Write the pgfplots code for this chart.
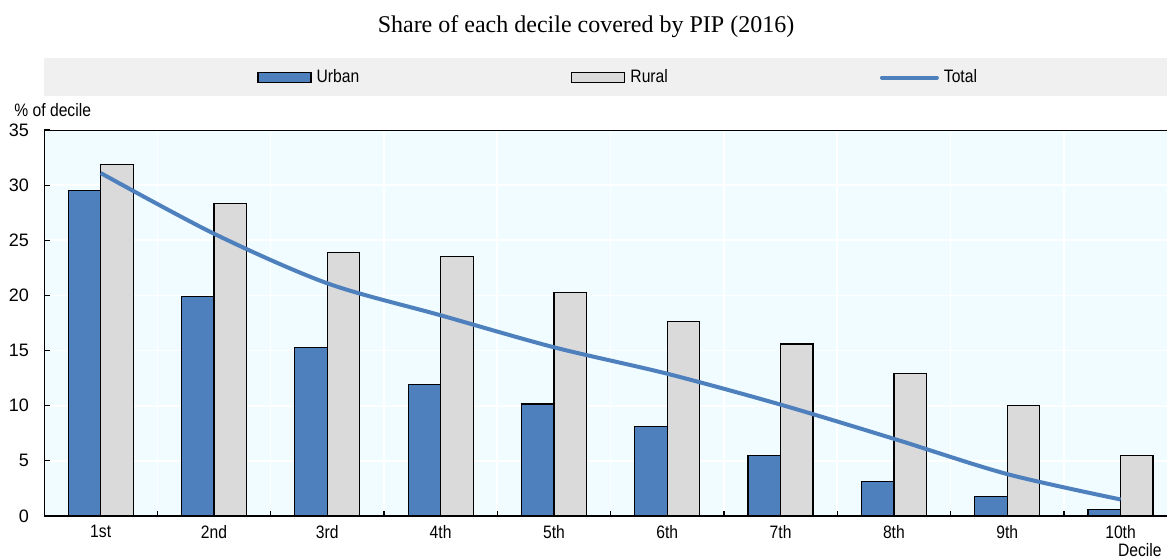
\documentclass[border=0pt]{standalone}
\usepackage{fontspec}
\setmainfont{Liberation Sans}[FakeStretch=0.87]
\newfontfamily\titlefont{Liberation Serif}
\newfontfamily\numfont{Liberation Sans}
\usepackage{pgfplots}
\pgfplotsset{compat=1.18}

\definecolor{oecdblue}{RGB}{78,128,189}
\definecolor{ruralgray}{RGB}{218,218,218}
\definecolor{plotbg}{RGB}{240,252,255}
\definecolor{legbg}{RGB}{240,240,240}

\pgfplotsset{
  barleg/.style={legend image code/.code={\draw[##1] (0pt,-2.5pt) rectangle (26.5pt,2.5pt);}},
  lineleg/.style={legend image code/.code={\draw[##1, line cap=round] (0pt,0pt) -- (27.5pt,0pt);}},
}

\begin{document}
\begin{tikzpicture}
\path[use as bounding box] (0,0) rectangle (583.5pt,279.5pt);
% legend band and title
\fill[legbg] (22pt,231.5pt) rectangle (583.5pt,250.5pt);
\node[font=\titlefont\fontsize{12}{14}\selectfont] at (293pt,266pt) {Share of each decile covered by PIP (2016)};
\node[anchor=base west, inner sep=0pt, font=\fontsize{9}{10}\selectfont] at (7pt,221.5pt) {\% of decile};
\node[anchor=north east, inner sep=0pt, font=\fontsize{9}{10}\selectfont] at (581pt,7.8pt) {Decile};

\begin{axis}[
  at={(22pt,21.5pt)}, anchor=south west,
  scale only axis, width=561.5pt, height=193pt,
  xmin=-0.5, xmax=9.41, ymin=0, ymax=35,
  enlargelimits=false,
  axis line style={draw=none},
  axis background/.style={fill=plotbg},
  font=\fontsize{9}{10}\selectfont,
  /pgf/number format/assume math mode=true,
  xtick={0,...,9},
  xticklabels={1st,2nd,3rd,4th,5th,6th,7th,8th,9th,10th},
  minor xtick={0.5,1.5,...,8.5},
  major x tick style={draw=none},
  minor tick length=2.5pt,
  ytick={0,5,...,35},
  major tick length=3pt,
  tick align=inside,
  xtick pos=bottom, ytick pos=left,
  tick style={black, line width=0.6pt},
  xminorgrids=true, ymajorgrids=true,
  grid style={white, line width=0.8pt},
  minor grid style={white, line width=0.8pt},
  yticklabel style={xshift=-4pt, font=\numfont\fontsize{9}{10}\selectfont},
  xticklabel style={yshift=-1pt},
  legend columns=3,
  legend style={at={(0.1897,1.136)}, anchor=west, draw=none, fill=none,
    inner sep=0pt, font=\fontsize{9}{10}\selectfont,
    /tikz/every even column/.append style={column sep=103.5pt},
    nodes={inner xsep=2.5pt, inner ysep=0pt}},
]
\addplot[ybar, bar width=16.25pt, bar shift=-8.125pt, fill=oecdblue, draw=black, line width=0.6pt, barleg]
  coordinates {(0,29.5) (1,19.9) (2,15.3) (3,11.95) (4,10.15) (5,8.15) (6,5.5) (7,3.1) (8,1.8) (9,0.6)};
\addlegendentry{Urban}
\addplot[ybar, bar width=16.25pt, bar shift=8.125pt, fill=ruralgray, draw=black, line width=0.6pt, barleg]
  coordinates {(0,31.9) (1,28.3) (2,23.9) (3,23.5) (4,20.3) (5,17.65) (6,15.6) (7,12.95) (8,10.05) (9,5.5)};
\addlegendentry{Rural}
\addplot[smooth, oecdblue, line width=2pt, lineleg]
  coordinates {(0,31.1) (1,25.6) (2,21.1) (3,18.2) (4,15.3) (5,12.9) (6,10.1) (7,7.0) (8,3.8) (9,1.5)};
\addlegendentry{Total}
% axis frame
\draw[black, line width=1pt] (rel axis cs:0,1) -- (rel axis cs:0,0) -- (rel axis cs:1,0);
\draw[black, line width=0.8pt] (rel axis cs:0,1) -- (rel axis cs:1,1);
\end{axis}
\end{tikzpicture}
\end{document}
